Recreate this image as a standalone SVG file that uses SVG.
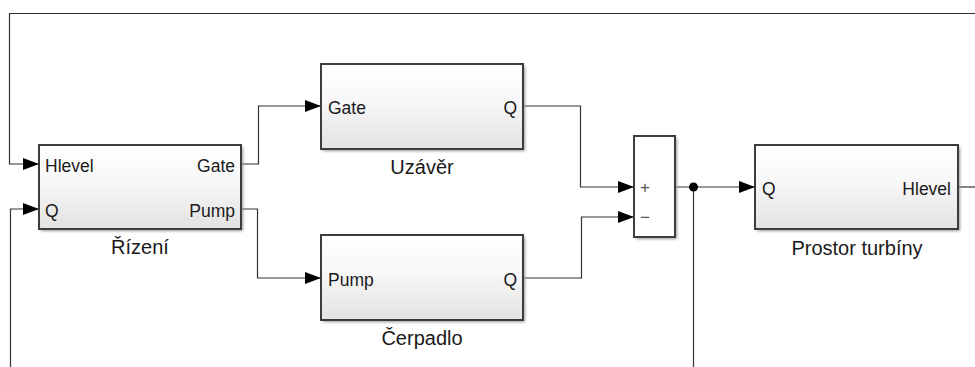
<svg xmlns="http://www.w3.org/2000/svg" width="975" height="367" viewBox="0 0 975 367">
<defs>
<linearGradient id="g" x1="0" y1="0" x2="0" y2="1">
<stop offset="0" stop-color="#ffffff"/>
<stop offset="0.45" stop-color="#f7f7f7"/>
<stop offset="1" stop-color="#e2e2e2"/>
</linearGradient>
<filter id="sh" x="-10%" y="-10%" width="130%" height="130%">
<feGaussianBlur stdDeviation="1.5"/>
</filter>
<marker id="ar" markerWidth="16" markerHeight="12" refX="16" refY="6" orient="auto" markerUnits="userSpaceOnUse">
<path d="M0,0 L16,6 L0,12 Z" fill="#000"/>
</marker>
</defs>
<style>
.blk{fill:url(#g);stroke:#3c3c3c;stroke-width:2}
.sum{fill:#fff;stroke:#3c3c3c;stroke-width:2}
.shd{fill:#9a9a9a;filter:url(#sh)}
.ln{fill:none;stroke:#333;stroke-width:1.2}
.pl{font-family:"Liberation Sans",Arial,sans-serif;font-size:17.5px;fill:#1a1a1a}
.nm{font-family:"Liberation Sans",Arial,sans-serif;font-size:20px;fill:#1a1a1a;text-anchor:middle}
.sg{font-family:"Liberation Sans",Arial,sans-serif;font-size:17px;fill:#555}
.r{text-anchor:end}
</style>
<rect width="975" height="367" fill="#fff"/>
<g id="connectors">
<path class="ln" d="M975,13.5 H9.5 V164 H39" marker-end="url(#ar)"/>
<path class="ln" d="M10.5,367 V209 H39" marker-end="url(#ar)"/>
<path class="ln" d="M241,164 H258.5 V106 H321" marker-end="url(#ar)"/>
<path class="ln" d="M241,209 H257.5 V278 H321" marker-end="url(#ar)"/>
<path class="ln" d="M523,106 H580.5 V187 H634" marker-end="url(#ar)"/>
<path class="ln" d="M523,278 H581.5 V217 H634" marker-end="url(#ar)"/>
<path class="ln" d="M675,187 H755" marker-end="url(#ar)"/>
<path class="ln" d="M693.5,187 V367"/>
<path class="ln" d="M958,187 H975"/>
<circle cx="693.5" cy="187" r="4.5" fill="#000"/>
</g>
<g id="rizeni">
<rect class="shd" x="41" y="147" width="202" height="84"/>
<rect class="blk" x="39" y="145" width="202" height="84"/>
<text class="pl" x="45" y="172">Hlevel</text>
<text class="pl" x="45" y="217">Q</text>
<text class="pl r" x="235" y="172">Gate</text>
<text class="pl r" x="235" y="217">Pump</text>
<text class="nm" x="140" y="254">Řízení</text>
</g>
<g id="uzaver">
<rect class="shd" x="323" y="66" width="202" height="85"/>
<rect class="blk" x="321" y="64" width="202" height="85"/>
<text class="pl" x="328" y="114">Gate</text>
<text class="pl r" x="517" y="114">Q</text>
<text class="nm" x="422" y="174">Uzávěr</text>
</g>
<g id="cerpadlo">
<rect class="shd" x="323" y="237" width="202" height="85"/>
<rect class="blk" x="321" y="235" width="202" height="85"/>
<text class="pl" x="328" y="286">Pump</text>
<text class="pl r" x="517" y="286">Q</text>
<text class="nm" x="422" y="345">Čerpadlo</text>
</g>
<g id="sum">
<rect class="shd" x="636" y="138" width="41" height="101"/>
<rect class="sum" x="634" y="136" width="41" height="101"/>
<text class="sg" x="640" y="193">+</text>
<text class="sg" x="640" y="223">−</text>
</g>
<g id="prostor">
<rect class="shd" x="757" y="147" width="203" height="84"/>
<rect class="blk" x="755" y="145" width="203" height="84"/>
<text class="pl" x="762" y="195">Q</text>
<text class="pl r" x="951" y="195">Hlevel</text>
<text class="nm" x="857" y="255">Prostor turbíny</text>
</g>
</svg>
